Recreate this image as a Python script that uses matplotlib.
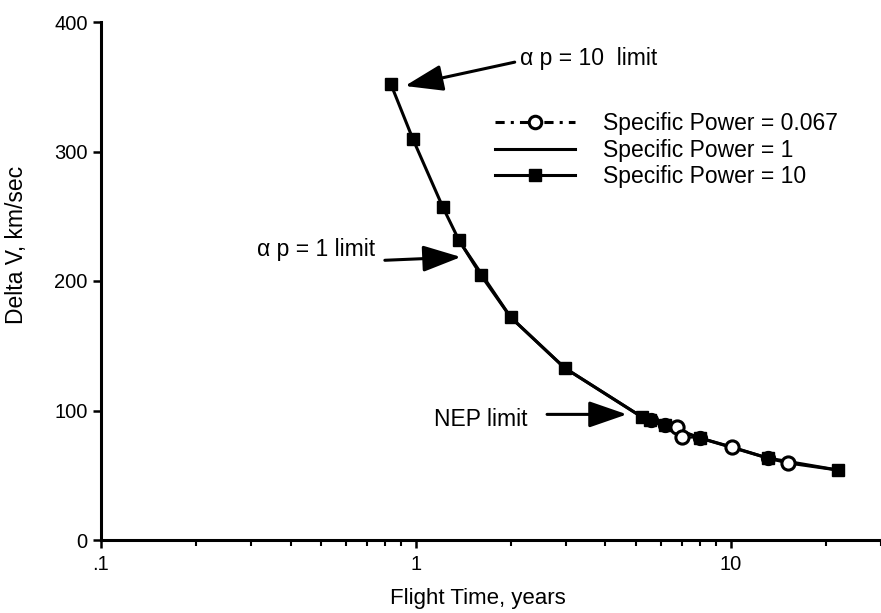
import matplotlib
matplotlib.use('Agg')
import matplotlib.pyplot as plt
from matplotlib.lines import Line2D

plt.rcParams['font.family'] = ['Liberation Sans', 'DejaVu Sans']

# Specific Power = 10 (squares)
t_p10 = [0.833, 0.978, 1.218, 1.369, 1.608, 2.00, 2.97, 5.22, 5.55, 6.2, 7.97, 13.1, 21.9]
dv_p10 = [352, 309.7, 257, 231.7, 204.6, 172, 132.8, 95, 92.7, 89, 78.8, 63.3, 54]

# Specific Power = 1 (plain line)
t_p1 = [1.39, 2.00, 2.97, 5.22, 6.74, 7.97, 10.07, 13.1, 15.2, 21.9]
dv_p1 = [229, 172, 132.8, 95, 85, 78.8, 71.8, 63.3, 59.5, 54]

# Specific Power = 0.067 (circles)
t_p067 = [5.3, 5.6, 6.2, 6.74, 6.98, 7.97, 10.07, 13.1, 15.2]
dv_p067 = [96, 93, 89, 87.3, 79.5, 78.8, 71.8, 63.3, 59.5]
t_open = [6.74, 6.98, 10.07, 15.2]
dv_open = [87.3, 79.5, 71.8, 59.5]
t_filled = [5.6, 6.2, 7.97, 13.1]
dv_filled = [93, 89, 78.8, 63.3]

fig = plt.figure(figsize=(8.81, 6.13), dpi=100)
ax = fig.add_axes([101 / 881, 1 - 540 / 613, 780 / 881, 518 / 613])
ax.set_xscale('log')
ax.set_xlim(0.1, 30)
ax.set_ylim(0, 400)

# curves
ax.plot(t_p067, dv_p067, color='black', lw=1.5, ls='-.')
ax.plot(t_p1, dv_p1, color='black', lw=2.2)
ax.plot(t_p10, dv_p10, color='black', lw=2.2, marker='s', ms=8.5)
ax.plot(t_filled, dv_filled, ls='none', marker='o', ms=10,
        mfc='black', mec='black')
ax.plot(t_open, dv_open, ls='none', marker='o', ms=9.5,
        mfc='white', mec='black', mew=2.2)

# spines and ticks
for s in ['top', 'right']:
    ax.spines[s].set_visible(False)
for s in ['left', 'bottom']:
    ax.spines[s].set_linewidth(2.2)
ax.set_yticks([0, 100, 200, 300, 400])
ax.set_xticks([0.1, 1, 10])
ax.set_xticklabels(['.1', '1', '10'])
ax.tick_params(axis='both', labelsize=14.5, width=1.8, length=6, direction='out')
ax.tick_params(axis='x', which='minor', width=1.5, length=4)
ax.tick_params(axis='x', which='major', pad=5)
ax.xaxis.set_minor_formatter(plt.NullFormatter())

ax.set_xlabel('Flight Time, years', fontsize=16)
ax.set_ylabel('Delta V, km/sec', fontsize=16.5)
ax.xaxis.set_label_coords(0.483, -0.092)
ax.yaxis.set_label_coords(-0.093, 0.57)

# annotations
arrow = dict(arrowstyle='-|>,head_length=1.3,head_width=0.45',
             color='black', lw=2.2, mutation_scale=18, shrinkA=0, shrinkB=0)
ax.annotate('', xy=(0.923, 350.6), xytext=(2.06, 369), arrowprops=arrow)
ax.text(2.14, 372, '\u03b1 p = 10  limit', fontsize=16.5, ha='left', va='center')

ax.annotate('', xy=(1.39, 218.5), xytext=(0.797, 216), arrowprops=arrow)
ax.text(0.741, 224, '\u03b1 p = 1 limit', fontsize=16.5, ha='right', va='center')

ax.annotate('', xy=(4.68, 97), xytext=(2.61, 97), arrowprops=arrow)
ax.text(2.27, 92.7, 'NEP limit', fontsize=16.5, ha='right', va='center')

# legend
handles = [
    Line2D([], [], color='black', lw=2.2, ls=(0, (3, 2, 1, 2)), marker='o',
           ms=9, mfc='white', mec='black', mew=2.2),
    Line2D([], [], color='black', lw=2.2),
    Line2D([], [], color='black', lw=2.2, marker='s', ms=8.5),
]
labels = ['Specific Power = 0.067', 'Specific Power = 1', 'Specific Power = 10']
ax.legend(handles, labels, loc='upper left', bbox_to_anchor=(0.505, 0.826),
          bbox_transform=ax.transAxes, frameon=False, fontsize=16.5,
          handlelength=3.5, handletextpad=1.2, labelspacing=0.16, borderpad=0,
          borderaxespad=0)

fig.savefig('out.png', dpi=100)
